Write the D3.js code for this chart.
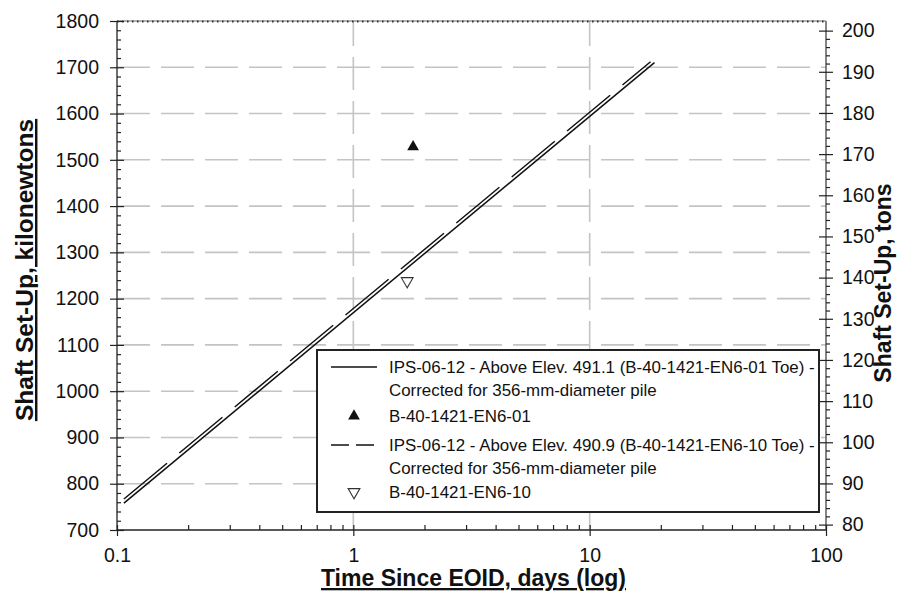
<!DOCTYPE html>
<html>
<head>
<meta charset="utf-8">
<script src="https://cdn.jsdelivr.net/npm/d3@7"></script>
<style>
  body { margin: 0; background: #fff; }
  text { font-family: "Liberation Sans", Arial, sans-serif; fill: #111; }
  .axis path { display: none; }
  .axis line { stroke: #222; stroke-width: 1.2; }
  .axis text { font-size: 19.5px; fill: #111; }
</style>
</head>
<body>
<div id="chart"></div>
<script>
const svgWidth = 909,
      svgHeight = 601,
      margin = {top: 21, right: 83, bottom: 71, left: 117},
      width = svgWidth - margin.left - margin.right,
      height = svgHeight - margin.top - margin.bottom;

// data
const kN_PER_TON = 8.896;
const xMajor = [0.1, 1, 10, 100];
const yMajor = [700, 800, 900, 1000, 1100, 1200, 1300, 1400, 1500, 1600, 1700, 1800];
const tonMajor = [80, 90, 100, 110, 120, 130, 140, 150, 160, 170, 180, 190, 200];

// IPS-06-12 trend lines (time in days, shaft set-up in kN)
const solidLine = [{t: 0.107, q: 758}, {t: 18.8, q: 1710}];
const dashedLine = [{t: 0.107, q: 767}, {t: 18.1, q: 1712}];
// measured points
const en601 = [{t: 1.79, q: 1528}];
const en610 = [{t: 1.69, q: 1238}];

const legendItems = [
  {kind: "solid", text: ["IPS-06-12 - Above Elev. 491.1 (B-40-1421-EN6-01 Toe) -", "Corrected for 356-mm-diameter pile"]},
  {kind: "up", text: ["B-40-1421-EN6-01"]},
  {kind: "dashed", text: ["IPS-06-12 - Above Elev. 490.9 (B-40-1421-EN6-10 Toe) -", "Corrected for 356-mm-diameter pile"]},
  {kind: "down", text: ["B-40-1421-EN6-10"]}
];

let scaleX = d3.scaleLog().domain([0.1, 100]).range([0, width]),
    scaleY = d3.scaleLinear().domain([700, 1800]).range([height, 0]),
    scaleT = d3.scaleLinear().domain([700 / kN_PER_TON, 1800 / kN_PER_TON]).range([height, 0]);

let xMinor = [];
xMajor.slice(0, -1).forEach(d => { for (let k = 2; k < 10; k++) xMinor.push(d * k); });
let yMinor = d3.range(700, 1800, 20).filter(d => d % 100 !== 0);
let tonMinor = d3.range(80, 202, 2).filter(d => d % 10 !== 0 && scaleT(d) >= 0);

let svg = d3.select("#chart")
  .append("svg")
  .attr("width", svgWidth)
  .attr("height", svgHeight);

let g = svg.append("g")
  .attr("transform", "translate(" + margin.left + "," + margin.top + ")");

// grid
g.append("g").selectAll("line")
  .data(yMajor.filter(d => d > 700 && d < 1800))
  .enter().append("line")
  .attr("x1", 0).attr("x2", width)
  .attr("y1", d => scaleY(d)).attr("y2", d => scaleY(d))
  .attr("stroke", "#c4c4c4").attr("stroke-width", 1.6)
  .attr("stroke-dasharray", "33,11");

g.append("g").selectAll("line")
  .data([1, 10])
  .enter().append("line")
  .attr("x1", d => scaleX(d)).attr("x2", d => scaleX(d))
  .attr("y1", height).attr("y2", 0)
  .attr("stroke", "#c4c4c4").attr("stroke-width", 1.6)
  .attr("stroke-dasharray", "33,11");

// frame
g.append("line").attr("x1", 0).attr("x2", 0).attr("y1", 0).attr("y2", height)
  .attr("stroke", "#222").attr("stroke-width", 1.3);
g.append("line").attr("x1", 0).attr("x2", width).attr("y1", height).attr("y2", height)
  .attr("stroke", "#222").attr("stroke-width", 1.3);
g.append("line").attr("x1", width).attr("x2", width).attr("y1", 0).attr("y2", height)
  .attr("stroke", "#444").attr("stroke-width", 1.3);
g.append("line").attr("x1", 0).attr("x2", width).attr("y1", 0).attr("y2", 0)
  .attr("stroke", "#666").attr("stroke-width", 1);
g.append("line").attr("x1", 0).attr("x2", width).attr("y1", 0.5).attr("y2", 0.5)
  .attr("stroke", "#333").attr("stroke-width", 2.2)
  .attr("stroke-dasharray", "1.5,3.5");

// left axis
g.append("g").attr("class", "axis")
  .call(d3.axisLeft(scaleY).tickValues(yMajor).tickSize(7).tickPadding(11).tickFormat(d3.format("d")));
g.append("g").attr("class", "axis")
  .call(d3.axisRight(scaleY).tickValues(yMajor).tickSize(7).tickFormat(""));
g.append("g").attr("class", "axis")
  .call(d3.axisRight(scaleY).tickValues(yMinor).tickSize(4).tickFormat(""));

// right axis (tons)
let rightAxis = g.append("g").attr("class", "axis")
  .attr("transform", "translate(" + width + ",0)");
rightAxis.call(d3.axisRight(scaleT).tickValues(tonMajor).tickSize(7).tickPadding(9).tickFormat(d3.format("d")));
g.append("g").attr("class", "axis")
  .attr("transform", "translate(" + width + ",0)")
  .call(d3.axisLeft(scaleT).tickValues(tonMajor).tickSize(7).tickFormat(""));
g.append("g").attr("class", "axis")
  .attr("transform", "translate(" + width + ",0)")
  .call(d3.axisRight(scaleT).tickValues(tonMinor).tickSize(4).tickFormat(""));

// bottom axis
g.append("g").attr("class", "axis")
  .attr("transform", "translate(0," + height + ")")
  .call(d3.axisBottom(scaleX).tickValues(xMajor).tickSize(6).tickPadding(12).tickFormat(d => String(d)));
g.append("g").attr("class", "axis")
  .attr("transform", "translate(0," + height + ")")
  .call(d3.axisTop(scaleX).tickValues(xMajor).tickSize(5).tickFormat(""));
g.append("g").attr("class", "axis")
  .attr("transform", "translate(0," + height + ")")
  .call(d3.axisTop(scaleX).tickValues(xMinor).tickSize(5).tickFormat(""));

// trend lines
let line = d3.line().x(d => scaleX(d.t)).y(d => scaleY(d.q));
g.append("path").datum(solidLine)
  .attr("d", line).attr("fill", "none")
  .attr("stroke", "#111").attr("stroke-width", 1.5);
g.append("path").datum(dashedLine)
  .attr("d", line).attr("fill", "none")
  .attr("stroke", "#111").attr("stroke-width", 1.5)
  .attr("stroke-dasharray", "56,16");

// markers
let triUp = d3.symbol().type(d3.symbolTriangle).size(60);
g.selectAll("path.en601").data(en601).enter().append("path")
  .attr("class", "en601")
  .attr("d", triUp)
  .attr("transform", d => "translate(" + scaleX(d.t) + "," + scaleY(d.q) + ")")
  .attr("fill", "#111");
g.selectAll("path.en610").data(en610).enter().append("path")
  .attr("class", "en610")
  .attr("d", triUp)
  .attr("transform", d => "translate(" + scaleX(d.t) + "," + scaleY(d.q) + ") rotate(180)")
  .attr("fill", "#fff").attr("stroke", "#333").attr("stroke-width", 1.1);

// legend
let legend = svg.append("g").attr("transform", "translate(317,350)");
legend.append("rect")
  .attr("width", 502).attr("height", 162)
  .attr("fill", "#fff").attr("stroke", "#222").attr("stroke-width", 2);

let rowY = [17, 66, 95, 142];
legendItems.forEach((item, i) => {
  let y = rowY[i];
  if (item.kind === "solid" || item.kind === "dashed") {
    legend.append("line")
      .attr("x1", 14).attr("x2", 60).attr("y1", y).attr("y2", y)
      .attr("stroke", "#111").attr("stroke-width", 1.5)
      .attr("stroke-dasharray", item.kind === "dashed" ? "18,7" : null);
  } else {
    legend.append("path")
      .attr("d", triUp)
      .attr("transform", "translate(37," + y + ")" + (item.kind === "down" ? " rotate(180)" : ""))
      .attr("fill", item.kind === "down" ? "#fff" : "#111")
      .attr("stroke", item.kind === "down" ? "#333" : "none")
      .attr("stroke-width", 1.1);
  }
  item.text.forEach((t, j) => {
    legend.append("text")
      .attr("x", 72).attr("y", y + j * 23)
      .attr("dy", "0.35em")
      .style("font-size", "16.9px")
      .text(t);
  });
});

// axis titles
svg.append("text")
  .attr("x", margin.left + width / 2 + 2).attr("y", 586)
  .style("text-anchor", "middle").style("font-weight", "bold")
  .style("font-size", "23px").style("text-decoration", "underline")
  .text("Time Since EOID, days (log)");

svg.append("text")
  .attr("transform", "translate(33,270)rotate(-90)")
  .style("text-anchor", "middle").style("font-weight", "bold")
  .style("font-size", "24.5px").style("text-decoration", "underline")
  .text("Shaft Set-Up, kilonewtons");

svg.append("text")
  .attr("transform", "translate(891,283)rotate(-90)")
  .style("text-anchor", "middle").style("font-weight", "bold")
  .style("font-size", "23px")
  .text("Shaft Set-Up, tons");
</script>
</body>
</html>
